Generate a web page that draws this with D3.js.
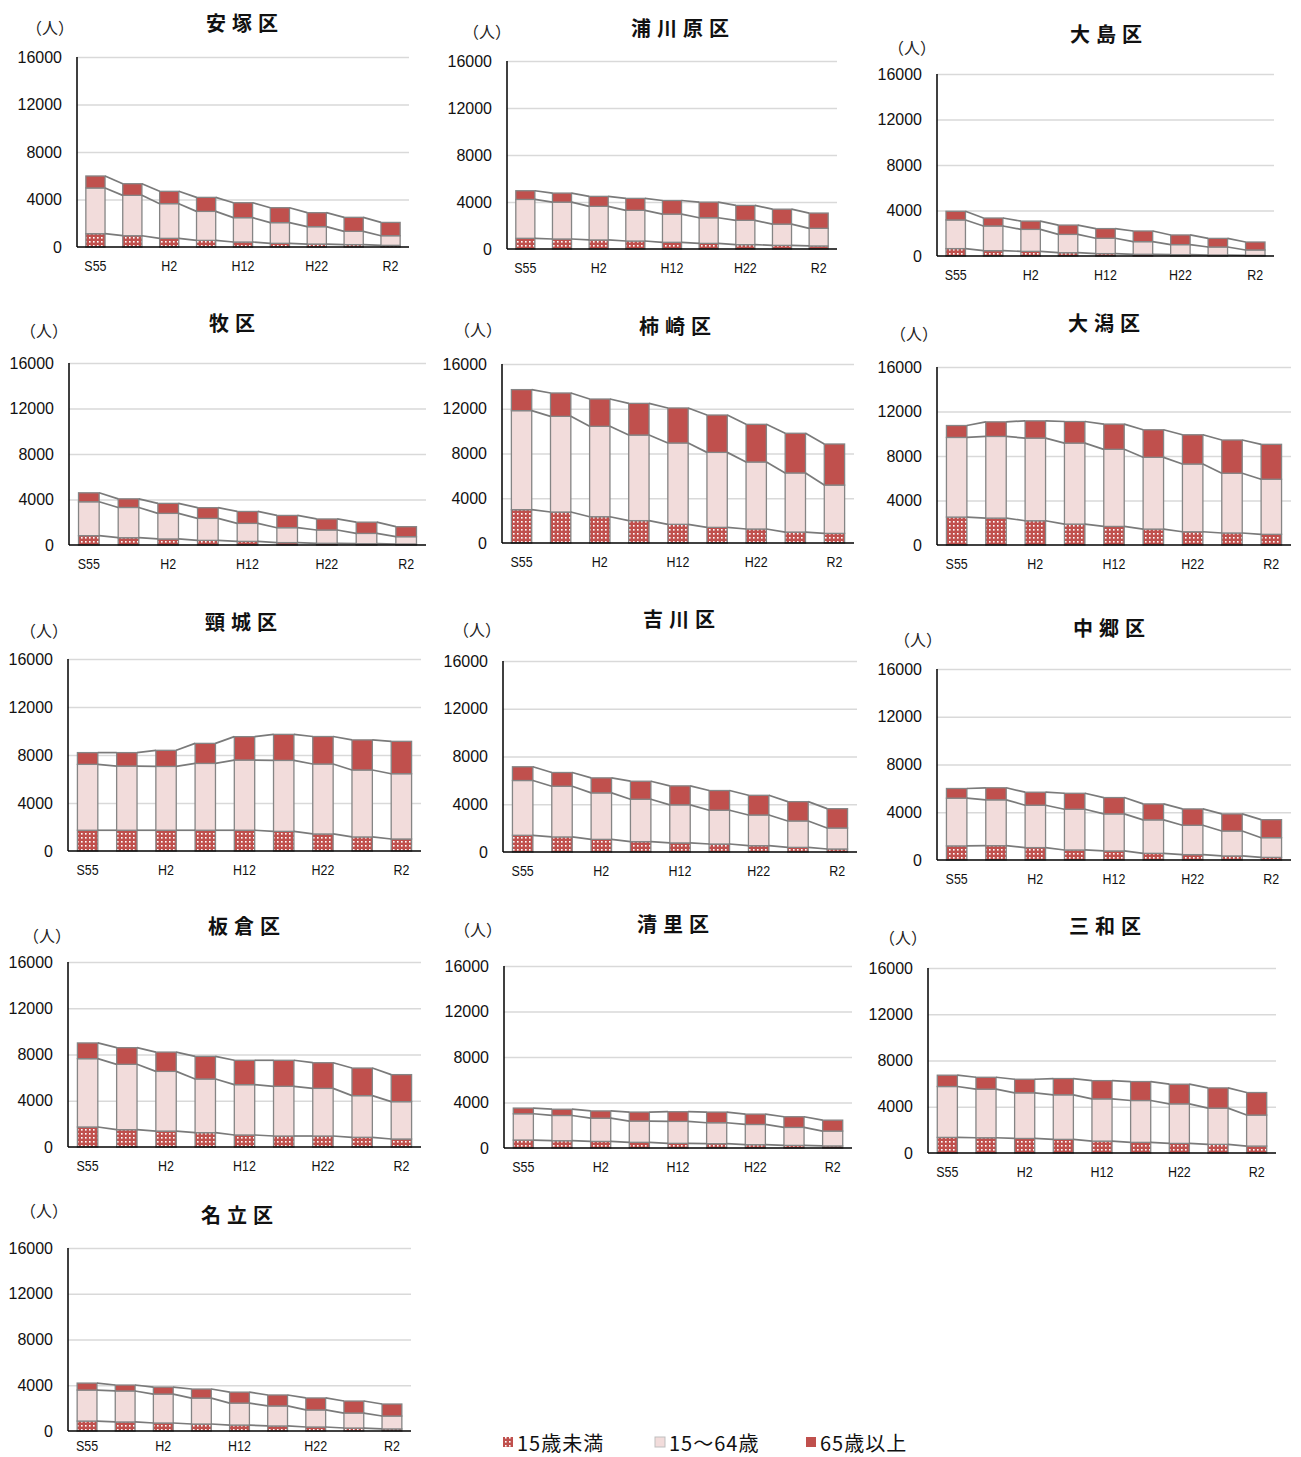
<!DOCTYPE html>
<html>
<head>
<meta charset="utf-8">
<script src="https://cdn.jsdelivr.net/npm/d3@7/dist/d3.min.js"></script>
<style>
  html, body { margin: 0; padding: 0; background: #fff; }
  svg { display: block; }
</style>
</head>
<body>
<svg id="chart" width="1301" height="1457"></svg>
<script>
// ---------------- DATA ----------------
const categories = ["S55", "S60", "H2", "H7", "H12", "H17", "H22", "H27", "R2"];
const shownTicks = ["S55", "H2", "H12", "H22", "R2"];
const yTicks = [0, 4000, 8000, 12000, 16000];
const seriesNames = ["15歳未満", "15～64歳", "65歳以上"];
const districts = ["安塚区", "浦川原区", "大島区", "牧区", "柿崎区", "大潟区", "頸城区", "吉川区", "中郷区", "板倉区", "清里区", "三和区", "名立区"];

// 15歳未満
const under15 = [
  [1120, 950, 730, 560, 420, 310, 250, 200, 140],
  [910, 850, 770, 680, 570, 480, 370, 310, 260],
  [650, 470, 410, 290, 210, 150, 120, 90, 60],
  [820, 640, 530, 410, 320, 210, 150, 120, 90],
  [2980, 2770, 2350, 2000, 1670, 1400, 1250, 980, 860],
  [2510, 2420, 2180, 1880, 1670, 1430, 1190, 1080, 960],
  [1730, 1730, 1730, 1730, 1730, 1640, 1420, 1170, 1000],
  [1400, 1260, 1060, 870, 760, 670, 530, 390, 250],
  [1180, 1200, 1040, 840, 760, 560, 450, 340, 220],
  [1730, 1500, 1380, 1240, 1040, 950, 950, 840, 690],
  [700, 640, 580, 500, 410, 380, 290, 230, 180],
  [1350, 1320, 1260, 1180, 1030, 920, 830, 750, 600],
  [870, 790, 700, 610, 520, 440, 350, 260, 180]
];
// 15～64歳
const age15to64 = [
  [3850, 3400, 2920, 2440, 2050, 1740, 1460, 1120, 810],
  [3310, 3140, 2860, 2610, 2400, 2180, 2070, 1810, 1500],
  [2520, 2170, 1930, 1610, 1350, 1110, 880, 700, 470],
  [2980, 2660, 2250, 1930, 1580, 1310, 1170, 900, 640],
  [8850, 8550, 8080, 7650, 7270, 6700, 5990, 5280, 4320],
  [7160, 7340, 7430, 7280, 6930, 6450, 6090, 5370, 4950],
  [5490, 5350, 5320, 5570, 5850, 5910, 5830, 5580, 5440],
  [4590, 4250, 3890, 3550, 3190, 2830, 2570, 2210, 1760],
  [4000, 3840, 3550, 3410, 3100, 2800, 2460, 2090, 1650],
  [5910, 5650, 5160, 4640, 4350, 4300, 4120, 3600, 3230],
  [2310, 2220, 2040, 1870, 1930, 1840, 1780, 1580, 1310],
  [4400, 4200, 3940, 3850, 3650, 3620, 3420, 3130, 2680],
  [2710, 2710, 2530, 2270, 1920, 1750, 1490, 1310, 1130]
];
// 65歳以上
const over65 = [
  [1010, 980, 1040, 1180, 1260, 1260, 1180, 1180, 1120],
  [740, 770, 850, 1020, 1160, 1330, 1270, 1270, 1300],
  [760, 700, 730, 820, 850, 940, 850, 760, 700],
  [790, 760, 880, 940, 1050, 1080, 970, 990, 880],
  [1880, 2090, 2440, 2830, 3130, 3340, 3370, 3550, 3670],
  [1070, 1310, 1550, 1940, 2270, 2480, 2630, 2990, 3140],
  [980, 1120, 1340, 1670, 1950, 2170, 2290, 2510, 2700],
  [1150, 1150, 1260, 1510, 1590, 1650, 1650, 1620, 1620],
  [810, 1010, 1090, 1340, 1370, 1340, 1370, 1430, 1510],
  [1360, 1440, 1670, 1960, 2110, 2250, 2220, 2390, 2340],
  [500, 550, 640, 790, 850, 940, 910, 940, 960],
  [980, 1030, 1180, 1410, 1580, 1640, 1700, 1750, 1950],
  [610, 520, 610, 790, 960, 960, 1050, 1050, 1050]
];

// ---------------- LAYOUT (panel frames) ----------------
const layout = [
  { ax: 77,  right: 409,  top: 57,   bottom: 247,  tx: 245,  ty: 22,   ux: 50,  uy: 27 },
  { ax: 507, right: 837,  top: 61,   bottom: 249,  tx: 683,  ty: 27,   ux: 487, uy: 31 },
  { ax: 937, right: 1274, top: 74,   bottom: 256,  tx: 1109, ty: 33,   ux: 912, uy: 47 },
  { ax: 69,  right: 426,  top: 363,  bottom: 545,  tx: 235,  ty: 322,  ux: 44,  uy: 330 },
  { ax: 502, right: 854,  top: 364,  bottom: 543,  tx: 678,  ty: 325,  ux: 478, uy: 329 },
  { ax: 937, right: 1291, top: 367,  bottom: 545,  tx: 1107, ty: 322,  ux: 914, uy: 333 },
  { ax: 68,  right: 421,  top: 659,  bottom: 851,  tx: 244,  ty: 621,  ux: 44,  uy: 630 },
  { ax: 503, right: 857,  top: 661,  bottom: 852,  tx: 682,  ty: 618,  ux: 477, uy: 629 },
  { ax: 937, right: 1291, top: 669,  bottom: 860,  tx: 1112, ty: 627,  ux: 918, uy: 639 },
  { ax: 68,  right: 421,  top: 962,  bottom: 1147, tx: 247,  ty: 925,  ux: 47,  uy: 935 },
  { ax: 504, right: 852,  top: 966,  bottom: 1148, tx: 676,  ty: 923,  ux: 478, uy: 929 },
  { ax: 928, right: 1276, top: 968,  bottom: 1153, tx: 1108, ty: 925,  ux: 903, uy: 937 },
  { ax: 68,  right: 411,  top: 1248, bottom: 1431, tx: 240,  ty: 1214, ux: 44,  uy: 1210 }
];

const COLORS = { old: "#c0504d", mid: "#f2dcdb", u15: "url(#dots)" };
const keys = ["u15", "mid", "old"];

const svg = d3.select("#chart");
const defs = svg.append("defs");
const pat = defs.append("pattern").attr("id", "dots")
  .attr("patternUnits", "userSpaceOnUse").attr("width", 4).attr("height", 4);
pat.append("rect").attr("width", 4).attr("height", 4).attr("fill", "#c0504d");
pat.append("rect").attr("x", 1).attr("y", 1).attr("width", 1.6).attr("height", 1.6).attr("fill", "#ffffff");

const tickFont = "'Liberation Sans', Arial, sans-serif";
const cjkFont = "'Noto Sans CJK JP', 'Noto Sans CJK SC', sans-serif";
const H = 1457;

districts.forEach((name, di) => {
  const L = layout[di];
  const rows = categories.map((c, i) => ({
    cat: c, u15: under15[di][i], mid: age15to64[di][i], old: over65[di][i]
  }));
  const stacked = d3.stack().keys(keys)(rows);

  const x = d3.scaleBand().domain(categories).range([L.ax, L.right])
    .paddingInner(0.48).paddingOuter(0.24);
  const y = d3.scaleLinear().domain([0, 16000]).range([L.bottom, L.top]);
  const g = svg.append("g");

  // gridlines
  const grid = g.append("g").attr("transform", `translate(${L.ax},0)`)
    .call(d3.axisLeft(y).tickValues(yTicks.filter(v => v > 0)).tickSize(-(L.right - L.ax)).tickFormat(""));
  grid.select(".domain").remove();
  grid.selectAll("line").attr("stroke", "#d9d9d9").attr("stroke-width", 1.5);

  // y axis labels
  const yAx = g.append("g").attr("transform", `translate(${L.ax},0)`)
    .call(d3.axisLeft(y).tickValues(yTicks).tickSize(0).tickPadding(15).tickFormat(d3.format("d")));
  yAx.select(".domain").remove();
  yAx.selectAll("text").attr("font-family", tickFont).attr("font-size", 16).attr("fill", "#111");

  // bars
  stacked.forEach(layer => {
    g.append("g").selectAll("rect").data(layer).join("rect")
      .attr("x", d => x(d.data.cat))
      .attr("width", x.bandwidth())
      .attr("y", d => y(d[1]))
      .attr("height", d => y(d[0]) - y(d[1]))
      .attr("fill", COLORS[layer.key])
      .attr("stroke", "#858585")
      .attr("stroke-width", 1.3);
  });

  // series lines
  stacked.forEach(layer => {
    const segs = d3.pairs(layer);
    g.append("g").selectAll("line").data(segs).join("line")
      .attr("x1", p => x(p[0].data.cat) + x.bandwidth())
      .attr("y1", p => y(p[0][1]))
      .attr("x2", p => x(p[1].data.cat))
      .attr("y2", p => y(p[1][1]))
      .attr("stroke", "#7a7a7a")
      .attr("stroke-width", 1.7);
  });

  // axes lines
  g.append("line").attr("x1", L.ax).attr("x2", L.ax).attr("y1", L.top).attr("y2", L.bottom)
    .attr("stroke", "#000").attr("stroke-width", 1.5);
  const pad = Math.min(14, H - L.bottom - 16);
  const xAx = g.append("g").attr("transform", `translate(0,${L.bottom})`)
    .call(d3.axisBottom(x).tickSize(0).tickPadding(pad).tickFormat(c => shownTicks.includes(c) ? c : ""));
  xAx.select(".domain").attr("stroke", "#000").attr("stroke-width", 1.5)
    .attr("d", `M${L.ax},0H${L.right}`);
  xAx.selectAll("text").attr("font-family", tickFont).attr("font-size", 14.5)
    .attr("transform", "scale(0.86,1)").attr("fill", "#111");

  // title
  g.append("text").attr("x", L.tx).attr("y", L.ty).attr("text-anchor", "middle")
    .attr("dominant-baseline", "central")
    .attr("font-family", cjkFont).attr("font-weight", "bold").attr("font-size", 20)
    .attr("letter-spacing", 6).attr("fill", "#111").text(name);

  // unit label
  g.append("text").attr("x", L.ux).attr("y", L.uy).attr("text-anchor", "middle")
    .attr("dominant-baseline", "central")
    .attr("font-family", cjkFont).attr("font-size", 16).attr("fill", "#222").text("（人）");
});

// legend
const legendItems = [
  { label: seriesNames[0], fill: COLORS.u15, x: 503 },
  { label: seriesNames[1], fill: COLORS.mid, x: 655 },
  { label: seriesNames[2], fill: COLORS.old, x: 806 }
];
const lg = svg.append("g");
legendItems.forEach(it => {
  lg.append("rect").attr("x", it.x).attr("y", 1437).attr("width", 10).attr("height", 10)
    .attr("fill", it.fill).attr("stroke", it.fill === COLORS.mid ? "#bfbfbf" : "none");
  lg.append("text").attr("x", it.x + 14).attr("y", 1442).attr("dominant-baseline", "central")
    .attr("font-family", cjkFont).attr("font-size", 20).attr("letter-spacing", 1)
    .attr("fill", "#111").text(it.label);
});
</script>
</body>
</html>
